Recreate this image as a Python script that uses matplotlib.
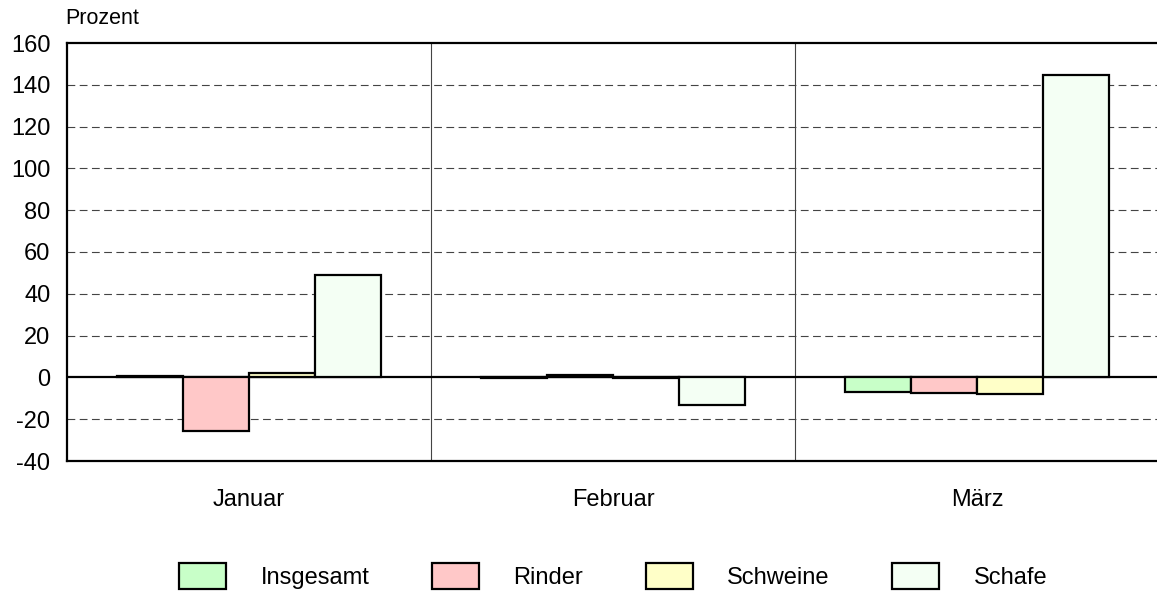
import matplotlib.pyplot as plt
import numpy as np

plt.rcParams['font.family'] = ['Liberation Sans', 'DejaVu Sans']
plt.rcParams['axes.unicode_minus'] = False

months = ['Januar', 'Februar', 'März']
series = ['Insgesamt', 'Rinder', 'Schweine', 'Schafe']
insgesamt = [0.6, -0.3, -7.0]
rinder = [-25.8, 1.3, -7.3]
schweine = [1.9, -0.3, -7.8]
schafe = [48.8, -13.1, 144.8]
colors = ['#c8ffc8', '#ffc8c8', '#ffffc8', '#f4fff4']

values = [insgesamt, rinder, schweine, schafe]

fig = plt.figure(figsize=(11.57, 5.94), dpi=100)
ax = fig.add_axes([67/1157, 1-461/594, 1092/1157, 418/594])

x = np.arange(len(months))
w = 0.182
for i, (name, vals) in enumerate(zip(series, values)):
    ax.bar(x + (i - 1.5) * w, vals, width=w, color=colors[i], edgecolor='black',
           linewidth=1.6, label=name, zorder=3)

ax.set_xlim(-0.5, 2.5)
ax.set_ylim(-40, 160)
ax.set_yticks(np.arange(-40, 161, 20))

# horizontal dashed grid, solid zero line
for yv in np.arange(-20, 160, 20):
    if yv == 0:
        ax.axhline(0, color='black', lw=1.6, zorder=2)
    else:
        ax.axhline(yv, color='#444444', lw=0.8, ls=(0, (7, 4)), zorder=1)

# group separators
for xv in [0.5, 1.5]:
    ax.axvline(xv, color='#444444', lw=0.8, zorder=1)

ax.set_xticks(x)
ax.set_xticklabels(months, fontsize=17)
ax.tick_params(axis='both', length=0, labelsize=17)
ax.tick_params(axis='x', pad=20)
ax.tick_params(axis='y', pad=12)

for s in ['top', 'left', 'bottom']:
    ax.spines[s].set_linewidth(1.6)
    ax.spines[s].set_color('black')
ax.spines['right'].set_visible(False)

fig.text(65/1157, 1-18/594, 'Prozent', fontsize=15.5, va='center', ha='left')

fig.legend(loc='center', bbox_to_anchor=(0.53, 1-576/594), ncol=4, frameon=False,
           fontsize=17, handlelength=2.0, handleheight=1.3, handletextpad=1.45,
           columnspacing=2.65)

fig.savefig('out.png', dpi=100)
